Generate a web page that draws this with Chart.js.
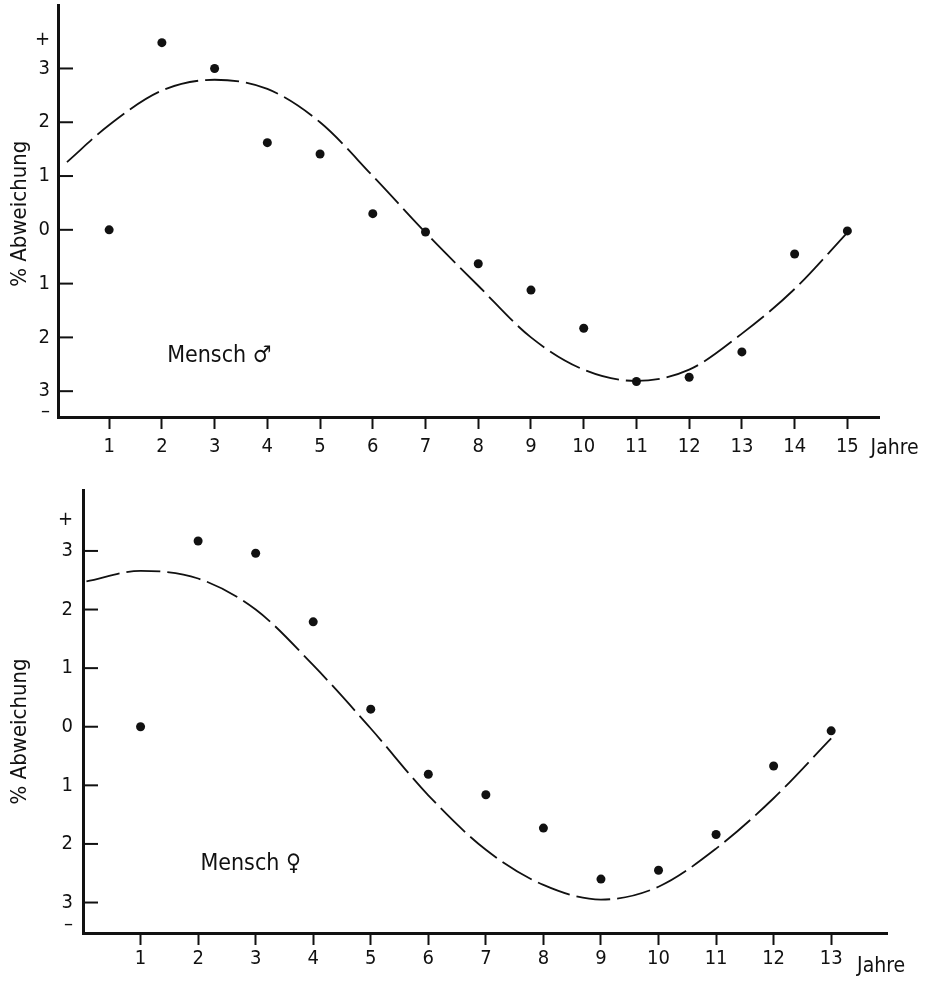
<!DOCTYPE html>
<html>
<head>
<meta charset="utf-8">
<script src="https://cdn.jsdelivr.net/npm/chart.js@4/dist/chart.umd.min.js"></script>
<style>
  html, body { margin: 0; padding: 0; background: #fff; }
  #wrap { position: relative; width: 928px; height: 983px; }
  canvas { position: absolute; left: 0; }
  #top { top: 0; }
  #bottom { top: 465px; }
</style>
</head>
<body>
<div id="wrap">
  <canvas id="top" width="928" height="465"></canvas>
  <canvas id="bottom" width="928" height="518"></canvas>
</div>
<script>
// Mensch ♂ (upper panel)
const maleYears = [1, 2, 3, 4, 5, 6, 7, 8, 9, 10, 11, 12, 13, 14, 15];
const maleDots = [0, 3.48, 3.0, 1.62, 1.41, 0.30, -0.04, -0.63, -1.12, -1.83, -2.82, -2.74, -2.27, -0.45, -0.02];
const maleCurveYears = [0.2, 1, 2, 3, 4, 5, 6, 7, 8, 9, 10, 11, 12, 13, 14, 15];
const maleCurve = [1.26, 1.95, 2.59, 2.79, 2.62, 2.0, 1.0, -0.05, -1.04, -2.0, -2.6, -2.81, -2.6, -1.93, -1.1, -0.05];

// Mensch ♀ (lower panel)
const femaleYears = [1, 2, 3, 4, 5, 6, 7, 8, 9, 10, 11, 12, 13];
const femaleDots = [0, 3.17, 2.96, 1.79, 0.30, -0.81, -1.16, -1.73, -2.60, -2.45, -1.84, -0.67, -0.07];
const femaleCurveYears = [0.06, 1, 2, 3, 4, 5, 6, 7, 8, 9, 10, 11, 12, 13];
const femaleCurve = [2.48, 2.66, 2.53, 2.0, 1.05, -0.03, -1.17, -2.1, -2.7, -2.95, -2.73, -2.08, -1.22, -0.2];

// y axis: magnitudes only, sign shown by + / – at the ends
const yTickValues = [-3, -2, -1, 0, 1, 2, 3];
const yTickLabels = ['3', '2', '1', '0', '1', '2', '3'];
const signValues = [3.54, -3.38];
const signLabels = ['+', '–'];

const INK = '#111';
const FONT = "'DejaVu Sans Condensed', 'Liberation Sans Narrow', 'DejaVu Sans', sans-serif";

const toXY = (xs, ys) => xs.map((x, i) => ({ x: x, y: ys[i] }));

// inward y ticks, rotated axis title, panel label, "Jahre"
const paperPlugin = {
    id: 'paper',
    afterDraw(chart, args, o) {
        const { ctx, scales: { x, y } } = chart;
        ctx.save();
        ctx.strokeStyle = INK;
        ctx.lineWidth = 2;
        yTickValues.forEach(v => {
            const py = y.getPixelForValue(v);
            ctx.beginPath();
            ctx.moveTo(x.left, py);
            ctx.lineTo(x.left + 15, py);
            ctx.stroke();
        });

        ctx.fillStyle = INK;
        ctx.font = '22px ' + FONT;
        ctx.textAlign = 'center';
        ctx.textBaseline = 'middle';
        ctx.save();
        ctx.translate(o.titleX, y.getPixelForValue(o.titleAt));
        ctx.rotate(-Math.PI / 2);
        ctx.fillText('% Abweichung', 0, 0);
        ctx.restore();

        ctx.textAlign = 'left';
        ctx.textBaseline = 'alphabetic';
        ctx.font = '23px ' + FONT;
        ctx.fillText(o.label, x.getPixelForValue(o.labelAt[0]), y.getPixelForValue(o.labelAt[1]));

        ctx.font = '21px ' + FONT;
        ctx.textBaseline = 'middle';
        ctx.fillText('Jahre', x.getPixelForValue(o.unitAt), x.top + o.unitDy);
        ctx.restore();
    }
};

function makePanel(id, cfg) {
    new Chart(document.getElementById(id), {
        type: 'scatter',
        data: {
            datasets: [
                {
                    data: toXY(cfg.curveX, cfg.curveY),
                    showLine: true,
                    borderColor: INK,
                    borderWidth: 1.8,
                    borderDash: [34, 7],
                    cubicInterpolationMode: 'monotone',
                    pointRadius: 0
                },
                {
                    data: toXY(cfg.dotX, cfg.dotY),
                    showLine: false,
                    pointRadius: 4.5,
                    pointBackgroundColor: INK,
                    pointBorderColor: INK,
                    pointBorderWidth: 0
                }
            ]
        },
        options: {
            responsive: false,
            animation: false,
            layout: { padding: cfg.padding },
            plugins: {
                legend: { display: false },
                tooltip: { enabled: false },
                paper: cfg.paper
            },
            scales: {
                x: {
                    type: 'linear',
                    min: cfg.xMin, max: cfg.xMax,
                    afterBuildTicks: s => { s.ticks = cfg.dotX.map(v => ({ value: v })); },
                    afterFit: s => { s.height = cfg.xHeight; s.paddingLeft = 0; s.paddingRight = 0; },
                    border: { display: true, color: INK, width: 3 },
                    grid: { drawOnChartArea: false, drawTicks: true, tickLength: cfg.tickLen, tickWidth: 2, tickColor: INK },
                    ticks: {
                        color: INK, padding: cfg.xPad, maxRotation: 0, autoSkip: false,
                        font: { family: FONT, size: 20 },
                        callback: v => String(v)
                    }
                },
                y: {
                    type: 'linear',
                    min: cfg.yMin, max: cfg.yMax,
                    afterBuildTicks: s => {
                        s.ticks = yTickValues.concat(signValues).map(v => ({ value: v }));
                    },
                    afterFit: s => { s.width = cfg.yWidth; s.paddingTop = 0; s.paddingBottom = 0; },
                    border: { display: true, color: INK, width: 3 },
                    grid: { drawOnChartArea: false, drawTicks: false },
                    ticks: {
                        color: INK, padding: cfg.yPad, autoSkip: false,
                        font: { family: FONT, size: 20 },
                        callback: v => {
                            const i = yTickValues.indexOf(v);
                            if (i >= 0) return yTickLabels[i];
                            return signLabels[signValues.indexOf(v)];
                        }
                    }
                }
            }
        },
        plugins: [paperPlugin]
    });
}

makePanel('top', {
    dotX: maleYears, dotY: maleDots,
    curveX: maleCurveYears, curveY: maleCurve,
    xMin: 0.03, xMax: 15.6, yMin: -3.48, yMax: 4.18,
    padding: { top: 5, right: 49, left: 0, bottom: 0 },
    xHeight: 48, yWidth: 58, tickLen: 12, xPad: 6, yPad: 8,
    paper: { titleX: 20, titleAt: 0.3, label: 'Mensch ♂', labelAt: [2.1, -2.45], unitAt: 15.44, unitDy: 32 }
});

makePanel('bottom', {
    dotX: femaleYears, dotY: femaleDots,
    curveX: femaleCurveYears, curveY: femaleCurve,
    xMin: 0, xMax: 13.97, yMin: -3.52, yMax: 4.04,
    padding: { top: 25, right: 41, left: 0, bottom: 0 },
    xHeight: 50, yWidth: 83, tickLen: 12, xPad: 2, yPad: 10,
    paper: { titleX: 20, titleAt: -0.08, label: 'Mensch ♀', labelAt: [2.04, -2.45], unitAt: 13.45, unitDy: 34 }
});
</script>
</body>
</html>
